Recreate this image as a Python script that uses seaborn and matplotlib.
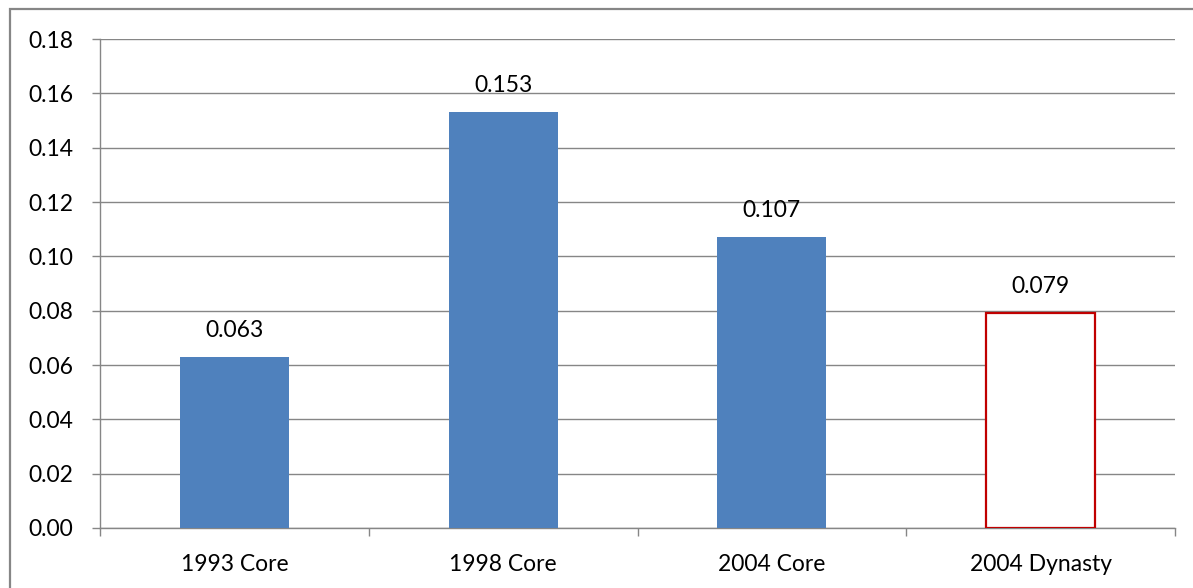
import matplotlib
matplotlib.use("Agg")
import matplotlib.pyplot as plt
from matplotlib.patches import Rectangle
import seaborn as sns
import pandas as pd

# Poverty index by survey group
categories = ["1993 Core", "1998 Core", "2004 Core", "2004 Dynasty"]
values = [0.063, 0.153, 0.107, 0.079]
y_ticks = [0.00, 0.02, 0.04, 0.06, 0.08, 0.10, 0.12, 0.14, 0.16, 0.18]

sns.set_theme(style="white")
plt.rcParams["font.family"] = ["Lato", "DejaVu Sans"]

GRID = "#868686"
BLUE = "#4F81BD"
RED = "#C00000"
FS = 16.5

df = pd.DataFrame({"group": categories, "value": values})

fig = plt.figure(figsize=(11.93, 5.88), dpi=100)
ax = fig.add_axes([100 / 1193, 1 - 528 / 588, 1075 / 1193, 489 / 588])

sns.barplot(data=df, x="group", y="value", order=categories, color=BLUE,
            width=0.405, ax=ax, saturation=1, zorder=3, linewidth=0)

# the last group is drawn as an outlined bar
last = ax.patches[-1]
last.set_facecolor("white")
last.set_edgecolor(RED)
last.set_linewidth(1.6)

for p, v in zip(ax.patches, values):
    ax.annotate(f"{v:.3f}", (p.get_x() + p.get_width() / 2, v),
                xytext=(0, 11.5), textcoords="offset points",
                ha="center", va="bottom", fontsize=FS, color="black")

ax.set_ylim(0, 0.18)
ax.set_xlim(-0.5, len(categories) - 0.5)
ax.set_yticks(y_ticks)
ax.set_yticklabels([f"{t:.2f}" for t in y_ticks])
ax.set_xlabel("")
ax.set_ylabel("")

ax.yaxis.grid(True, color=GRID, linewidth=1.0, zorder=0)
ax.set_axisbelow(True)

for s in ["top", "right"]:
    ax.spines[s].set_visible(False)
for s in ["left", "bottom"]:
    ax.spines[s].set_color(GRID)
    ax.spines[s].set_linewidth(1.0)

# y ticks point outward; x ticks sit between categories
ax.tick_params(axis="y", length=6, width=1.0, color=GRID, direction="out",
               pad=13, labelsize=FS, labelcolor="black", left=True)
ax.tick_params(axis="x", which="major", length=0, pad=19, labelsize=FS,
               labelcolor="black")
ax.set_xticks([i + 0.5 for i in range(-1, len(categories))], minor=True)
ax.tick_params(axis="x", which="minor", length=6, width=1.0, color=GRID,
               direction="out", bottom=True)

# chart frame
fig.patches.append(Rectangle((10 / 1193, -0.05), 1.2, 1 - 9 / 588 + 0.05,
                             transform=fig.transFigure, fill=False,
                             edgecolor=GRID, linewidth=1.6, zorder=0))

fig.savefig("out.png", dpi=100)
